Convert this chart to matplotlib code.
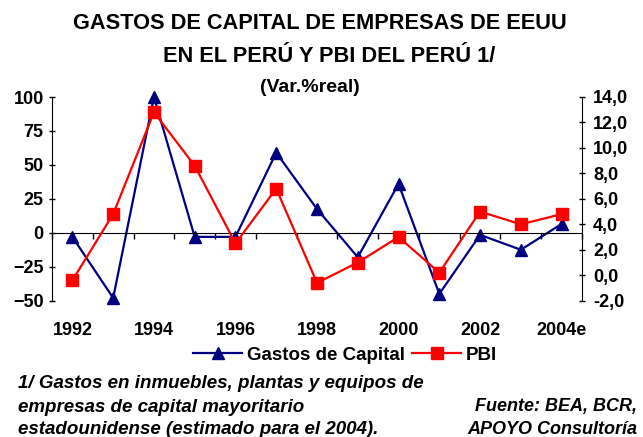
import numpy as np
import matplotlib.pyplot as plt
from matplotlib.lines import Line2D

# data
years = ['1992', '1993', '1994', '1995', '1996', '1997', '1998',
         '1999', '2000', '2001', '2002', '2003', '2004e']
gastos = [-3, -48, 100, -3, -3, 59, 17.5, -18, 36, -45, -1.5, -12.5, 6.5]
pbi = [-0.4, 4.8, 12.8, 8.6, 2.5, 6.8, -0.6, 1.0, 3.0, 0.2, 5.0, 4.0, 4.8]

navy = '#000080'
red = '#FF0000'

plt.rcParams['font.family'] = ['Liberation Sans', 'DejaVu Sans']
plt.rcParams['font.weight'] = 'bold'

fig = plt.figure(figsize=(6.43, 4.37), dpi=100)
ax = fig.add_axes([52 / 643, 1 - 300.7 / 437, 530 / 643, 203.7 / 437])
x = np.arange(len(years))

ax.plot(x, gastos, color=navy, lw=1.6, marker='^', ms=9, clip_on=False)
ax.set_xlim(-0.5, len(years) - 0.5)
ax.set_ylim(-50, 100)
ax.set_yticks(np.arange(-50, 101, 25))
ax.tick_params(axis='y', direction='inout', length=4, width=1, labelsize=13, pad=4)

# category axis drawn on the zero line, ticks between categories
ax.spines['bottom'].set_position(('data', 0))
ax.set_xticks(np.arange(-0.5, len(years), 1))
ax.set_xticklabels([])
ax.tick_params(axis='x', direction='out', length=4, width=1)
for s in ['top', 'right']:
    ax.spines[s].set_visible(False)

sec = ax.secondary_xaxis(0)
sec.set_xticks(x[::2], labels=years[::2])
sec.tick_params(length=0, pad=15.5, labelsize=13)
sec.spines['bottom'].set_visible(False)

ax2 = ax.twinx()
ax2.plot(x, pbi, color=red, lw=1.6, marker='s', ms=8, clip_on=False)
ax2.set_ylim(-2, 14)
ax2.set_yticks(np.arange(-2, 14.1, 2))
ax2.set_yticklabels([f'{v:.1f}'.replace('.', ',') for v in np.arange(-2, 14.1, 2)])
ax2.tick_params(axis='y', direction='inout', length=4, width=1, labelsize=13, pad=6)
for s in ['top', 'bottom', 'left']:
    ax2.spines[s].set_visible(False)

# titles
fig.text(320 / 643, 1 - 23.5 / 437, 'GASTOS DE CAPITAL DE EMPRESAS DE EEUU',
         ha='center', va='center', fontsize=15.7, fontweight='bold')
fig.text(329 / 643, 1 - 56.5 / 437, 'EN EL PERÚ Y PBI DEL PERÚ 1/',
         ha='center', va='center', fontsize=15.7, fontweight='bold')
fig.text(310 / 643, 1 - 87 / 437, '(Var.%real)',
         ha='center', va='center', fontsize=14, fontweight='bold')

handles = [Line2D([], [], color=navy, lw=1.6, marker='^', ms=9),
           Line2D([], [], color=red, lw=1.6, marker='s', ms=8)]
fig.legend(handles, ['Gastos de Capital', 'PBI'], loc='center',
           bbox_to_anchor=(345 / 643, 1 - 355 / 437), ncol=2, frameon=False,
           fontsize=13.5, handlelength=2.6, handletextpad=0.25, columnspacing=0.4)

foot = ['1/ Gastos en inmuebles, plantas y equipos de',
        'empresas de capital mayoritario',
        'estadounidense (estimado para el 2004).']
for line, yy in zip(foot, [384, 407, 429]):
    fig.text(18 / 643, 1 - yy / 437, line, ha='left', va='center',
             fontsize=13.5, fontweight='bold', fontstyle='italic')
for line, yy in zip(['Fuente: BEA, BCR,', 'APOYO Consultoría'], [407, 429]):
    fig.text(637 / 643, 1 - yy / 437, line, ha='right', va='center',
             fontsize=13, fontweight='bold', fontstyle='italic')

fig.savefig('out.png', dpi=100)
